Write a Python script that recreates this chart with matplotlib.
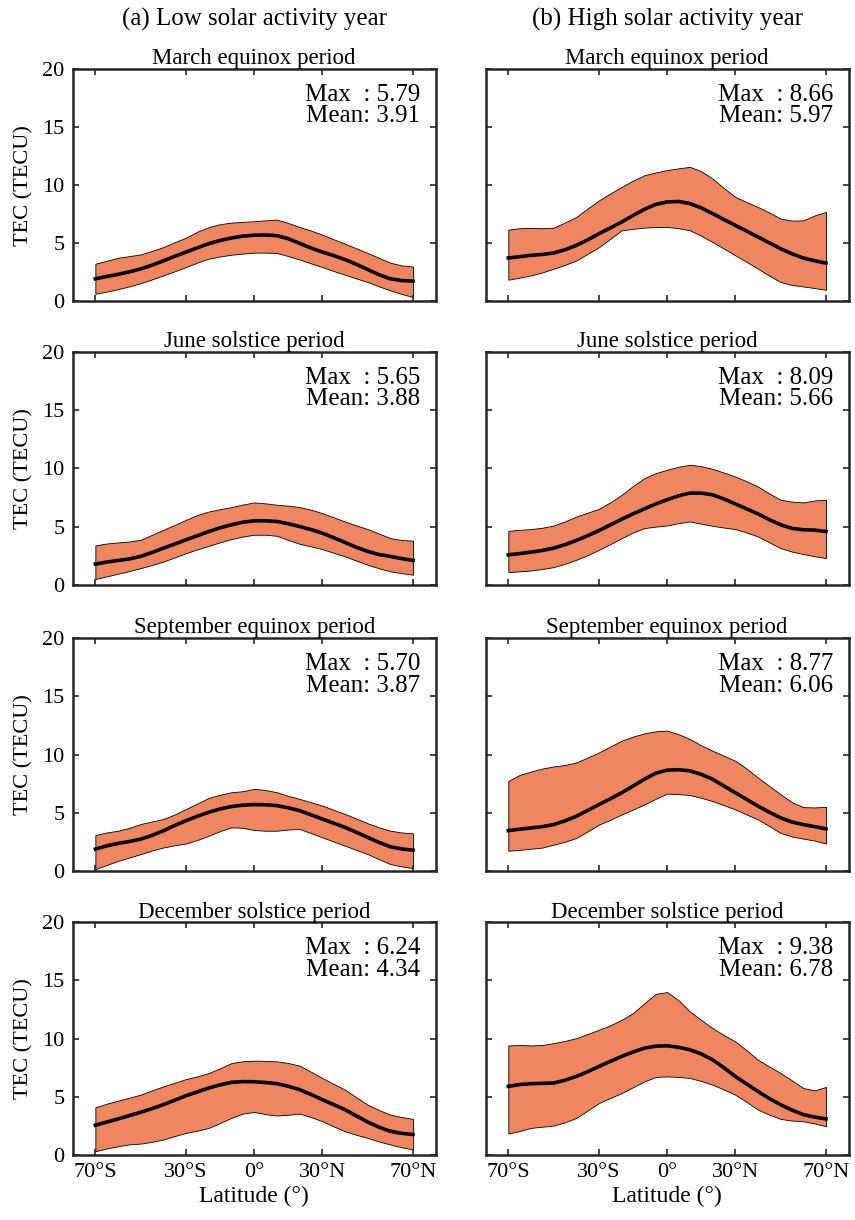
import matplotlib
matplotlib.use("Agg")
import matplotlib.pyplot as plt

plt.rcParams["font.family"] = ["Liberation Serif", "DejaVu Serif"]

lat = list(range(-70, 71, 5))

# low solar activity year (left column)
low_mar_mean = [1.95, 2.15, 2.33, 2.55, 2.8, 3.12, 3.5, 3.88, 4.25, 4.62, 4.97, 5.25, 5.46, 5.62, 5.7,
                5.72, 5.66, 5.4, 5.0, 4.6, 4.25, 3.95, 3.6, 3.2, 2.75, 2.3, 1.95, 1.8, 1.75]
low_mar_up = [3.25, 3.5, 3.76, 3.9, 4.05, 4.35, 4.68, 5.1, 5.49, 6.0, 6.4, 6.65, 6.78, 6.85, 6.9,
              6.98, 7.04, 6.75, 6.4, 6.1, 5.75, 5.35, 4.97, 4.57, 4.17, 3.75, 3.33, 3.1, 3.0]
low_mar_lo = [0.66, 0.85, 1.06, 1.3, 1.58, 1.9, 2.24, 2.6, 2.96, 3.35, 3.68, 3.87, 4.02, 4.12, 4.2,
              4.2, 4.17, 3.9, 3.6, 3.28, 2.96, 2.62, 2.3, 1.98, 1.67, 1.3, 0.95, 0.65, 0.37]

low_jun_mean = [1.78, 1.95, 2.09, 2.22, 2.44, 2.78, 3.15, 3.5, 3.87, 4.22, 4.58, 4.9, 5.16, 5.38, 5.5,
                5.5, 5.44, 5.25, 5.01, 4.75, 4.44, 4.05, 3.64, 3.22, 2.87, 2.6, 2.44, 2.25, 2.09]
low_jun_up = [3.38, 3.55, 3.64, 3.72, 3.87, 4.3, 4.73, 5.15, 5.59, 6.0, 6.3, 6.5, 6.68, 6.9, 7.08,
              7.0, 6.88, 6.8, 6.68, 6.45, 6.16, 5.8, 5.44, 5.1, 4.79, 4.4, 4.01, 3.85, 3.78]
low_jun_lo = [0.49, 0.72, 0.95, 1.18, 1.43, 1.7, 2.0, 2.35, 2.72, 3.05, 3.35, 3.65, 3.93, 4.15, 4.3,
              4.3, 4.21, 3.85, 3.52, 3.3, 3.07, 2.75, 2.44, 2.08, 1.72, 1.42, 1.15, 1.0, 0.86]

low_sep_mean = [1.87, 2.15, 2.36, 2.52, 2.73, 3.05, 3.45, 3.9, 4.32, 4.7, 5.04, 5.32, 5.53, 5.65, 5.7,
                5.68, 5.61, 5.42, 5.18, 4.82, 4.46, 4.1, 3.74, 3.32, 2.88, 2.45, 2.07, 1.88, 1.78]
low_sep_up = [3.08, 3.3, 3.45, 3.7, 4.03, 4.25, 4.46, 4.85, 5.32, 5.8, 6.27, 6.55, 6.76, 6.85, 7.05,
              6.95, 6.76, 6.45, 6.19, 5.9, 5.61, 5.25, 4.89, 4.5, 4.09, 3.75, 3.45, 3.3, 3.22]
low_sep_lo = [0.14, 0.5, 0.86, 1.15, 1.44, 1.75, 2.01, 2.2, 2.36, 2.65, 3.02, 3.42, 3.74, 3.7, 3.51,
              3.45, 3.45, 3.55, 3.6, 3.25, 2.88, 2.52, 2.16, 1.8, 1.44, 1.0, 0.58, 0.38, 0.23]

low_dec_mean = [2.55, 2.82, 3.09, 3.38, 3.66, 3.98, 4.32, 4.7, 5.09, 5.42, 5.75, 6.02, 6.24, 6.3, 6.29,
                6.22, 6.12, 5.9, 5.61, 5.2, 4.75, 4.32, 3.89, 3.35, 2.83, 2.38, 2.03, 1.85, 1.75]
low_dec_up = [4.09, 4.4, 4.66, 4.92, 5.18, 5.55, 5.89, 6.2, 6.52, 6.75, 7.04, 7.45, 7.9, 8.05, 8.1,
              8.08, 8.04, 7.9, 7.67, 7.15, 6.61, 6.1, 5.61, 4.95, 4.32, 3.85, 3.46, 3.25, 3.09]
low_dec_lo = [0.31, 0.55, 0.74, 0.9, 0.97, 1.12, 1.32, 1.62, 1.89, 2.08, 2.32, 2.75, 3.18, 3.55, 3.69,
              3.5, 3.38, 3.45, 3.55, 3.25, 2.89, 2.45, 2.03, 1.72, 1.46, 1.15, 0.89, 0.65, 0.46]

# high solar activity year (right column)
high_mar_mean = [3.74, 3.85, 3.97, 4.05, 4.17, 4.45, 4.83, 5.3, 5.83, 6.33, 6.84, 7.4, 7.93, 8.35, 8.56,
                 8.6, 8.42, 8.05, 7.56, 7.05, 6.55, 6.05, 5.55, 5.05, 4.54, 4.1, 3.74, 3.5, 3.3]
high_mar_up = [6.18, 6.3, 6.32, 6.3, 6.35, 6.8, 7.27, 8.0, 8.7, 9.3, 9.86, 10.4, 10.86, 11.1, 11.3,
               11.45, 11.58, 11.2, 10.57, 9.75, 9.0, 8.55, 8.13, 7.65, 7.13, 6.95, 6.98, 7.4, 7.7]
high_mar_lo = [1.87, 2.05, 2.24, 2.5, 2.82, 3.15, 3.53, 4.1, 4.68, 5.4, 6.12, 6.25, 6.35, 6.4, 6.41,
               6.3, 6.12, 5.65, 5.11, 4.55, 3.97, 3.4, 2.82, 2.22, 1.67, 1.42, 1.29, 1.15, 1.0]

high_jun_mean = [2.58, 2.68, 2.81, 2.95, 3.15, 3.45, 3.81, 4.22, 4.67, 5.15, 5.64, 6.1, 6.53, 6.95, 7.31,
                 7.65, 7.88, 7.88, 7.74, 7.38, 6.96, 6.53, 6.1, 5.6, 5.16, 4.85, 4.73, 4.7, 4.58]
high_jun_up = [4.64, 4.72, 4.79, 4.9, 5.1, 5.45, 5.87, 6.2, 6.53, 7.1, 7.74, 8.5, 9.17, 9.6, 9.89,
               10.15, 10.32, 10.2, 9.97, 9.65, 9.31, 8.9, 8.45, 7.85, 7.31, 7.15, 7.08, 7.25, 7.31]
high_jun_lo = [1.09, 1.15, 1.23, 1.35, 1.52, 1.8, 2.15, 2.55, 3.01, 3.5, 4.01, 4.5, 4.87, 5.0, 5.1,
               5.3, 5.44, 5.25, 5.07, 4.92, 4.79, 4.5, 4.15, 3.65, 3.15, 2.85, 2.64, 2.45, 2.29]

high_sep_mean = [3.46, 3.58, 3.69, 3.8, 3.98, 4.3, 4.7, 5.2, 5.71, 6.2, 6.72, 7.3, 7.88, 8.4, 8.66,
                 8.7, 8.6, 8.3, 7.88, 7.3, 6.72, 6.15, 5.57, 5.05, 4.56, 4.2, 3.98, 3.8, 3.61]
high_sep_up = [7.73, 8.25, 8.54, 8.8, 8.98, 9.1, 9.32, 9.75, 10.19, 10.7, 11.2, 11.55, 11.83, 12.0, 12.06,
               11.75, 11.34, 10.8, 10.33, 9.9, 9.47, 8.8, 8.02, 7.3, 6.58, 5.9, 5.48, 5.45, 5.51]
high_sep_lo = [1.73, 1.8, 1.9, 2.0, 2.25, 2.5, 2.83, 3.4, 3.98, 4.4, 4.85, 5.28, 5.71, 6.2, 6.64,
               6.6, 6.52, 6.28, 6.0, 5.65, 5.28, 4.85, 4.42, 3.85, 3.26, 2.95, 2.77, 2.6, 2.34]

high_dec_mean = [5.89, 6.05, 6.12, 6.15, 6.18, 6.42, 6.75, 7.15, 7.61, 8.05, 8.47, 8.85, 9.18, 9.35, 9.38,
                 9.25, 9.04, 8.68, 8.18, 7.5, 6.75, 6.1, 5.46, 4.85, 4.32, 3.85, 3.46, 3.25, 3.09]
high_dec_up = [9.41, 9.45, 9.41, 9.45, 9.61, 9.8, 10.04, 10.4, 10.76, 11.15, 11.62, 12.2, 13.05, 13.85, 14.0,
               13.3, 12.33, 11.6, 10.9, 10.3, 9.76, 9.0, 8.18, 7.6, 7.04, 6.4, 5.75, 5.55, 5.84]
high_dec_lo = [1.83, 2.05, 2.32, 2.42, 2.52, 2.8, 3.18, 3.82, 4.46, 4.9, 5.32, 5.82, 6.32, 6.7, 6.75,
               6.7, 6.61, 6.35, 6.04, 5.62, 5.18, 4.55, 3.89, 3.45, 3.09, 2.95, 2.89, 2.7, 2.46]

periods = ["March equinox period", "June solstice period",
           "September equinox period", "December solstice period"]
low_stats = [("5.79", "3.91"), ("5.65", "3.88"), ("5.70", "3.87"), ("6.24", "4.34")]
high_stats = [("8.66", "5.97"), ("8.09", "5.66"), ("8.77", "6.06"), ("9.38", "6.78")]

low_data = [(low_mar_mean, low_mar_up, low_mar_lo), (low_jun_mean, low_jun_up, low_jun_lo),
            (low_sep_mean, low_sep_up, low_sep_lo), (low_dec_mean, low_dec_up, low_dec_lo)]
high_data = [(high_mar_mean, high_mar_up, high_mar_lo), (high_jun_mean, high_jun_up, high_jun_lo),
             (high_sep_mean, high_sep_up, high_sep_lo), (high_dec_mean, high_dec_up, high_dec_lo)]

xticks = [-70, -30, 0, 30, 70]
xticklabels = ["70°S", "30°S", "0°", "30°N", "70°N"]

fill_color = "#F0865F"
frame_color = "#262626"

fig = plt.figure(figsize=(8.55, 12.2), dpi=100)

col_x = [0.085, 0.568]
col_w = 0.4246
row_bottom = [0.7529, 0.5207, 0.2862, 0.0534]
row_h = 0.1906

for c, (data, stats) in enumerate([(low_data, low_stats), (high_data, high_stats)]):
    for r in range(4):
        ax = fig.add_axes([col_x[c], row_bottom[r], col_w, row_h])
        mean, up, lo = data[r]
        ax.fill_between(lat, lo, up, facecolor=fill_color, edgecolor="black", linewidth=0.6)
        ax.plot(lat, mean, color="black", linewidth=2.6, solid_joinstyle="round")
        ax.set_xlim(-80, 80)
        ax.set_ylim(0, 20)
        ax.set_xticks(xticks)
        ax.set_yticks([0, 5, 10, 15, 20])
        ax.tick_params(direction="in", top=True, right=True, length=4, width=1.2,
                       labelsize=16, color=frame_color, pad=6)
        for s in ax.spines.values():
            s.set_linewidth(1.8)
            s.set_color(frame_color)
        if r == 3:
            ax.set_xticklabels(xticklabels)
            ax.set_xlabel("Latitude (°)", fontsize=17, labelpad=3)
        else:
            ax.set_xticklabels([])
        if c == 0:
            ax.set_ylabel("TEC (TECU)", fontsize=16, labelpad=6)
        else:
            ax.set_yticklabels([])
        ax.set_title(periods[r], fontsize=16.5, pad=3)
        mx, mn = stats[r]
        ax.text(0.958, 0.935, f"Max  : {mx}\nMean: {mn}", transform=ax.transAxes,
                ha="right", va="top", fontsize=18, linespacing=0.95)

fig.text(col_x[0] + col_w / 2, 0.984, "(a) Low solar activity year", ha="center", va="center", fontsize=18)
fig.text(col_x[1] + col_w / 2, 0.984, "(b) High solar activity year", ha="center", va="center", fontsize=18)

fig.savefig("out.png", dpi=100)
